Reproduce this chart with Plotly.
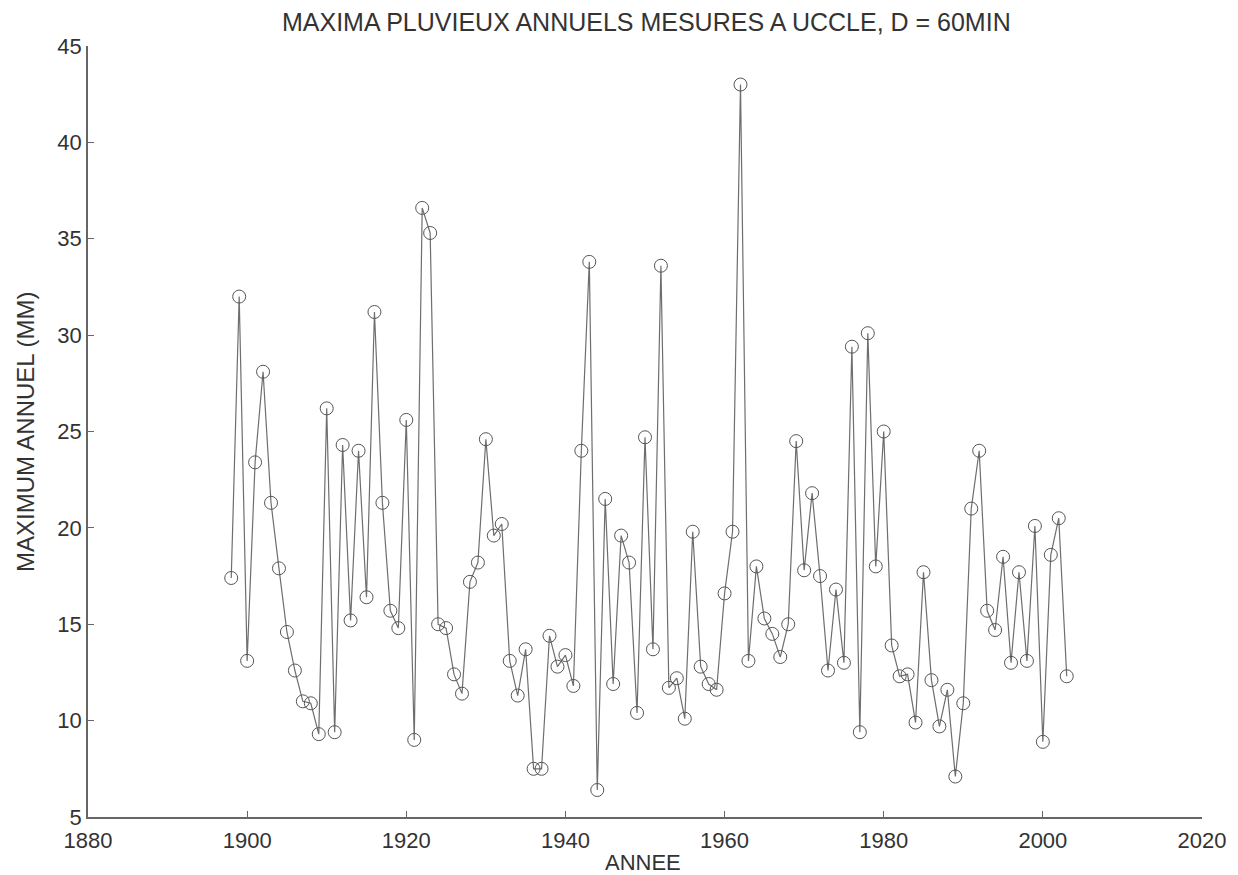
import plotly.graph_objects as go

years = list(range(1898, 2004))
maxima = [
    17.4, 32.0, 13.1, 23.4, 28.1, 21.3, 17.9, 14.6, 12.6, 11.0,
    10.9, 9.3, 26.2, 9.4, 24.3, 15.2, 24.0, 16.4, 31.2, 21.3,
    15.7, 14.8, 25.6, 9.0, 36.6, 35.3, 15.0, 14.8, 12.4, 11.4,
    17.2, 18.2, 24.6, 19.6, 20.2, 13.1, 11.3, 13.7, 7.5, 7.5,
    14.4, 12.8, 13.4, 11.8, 24.0, 33.8, 6.4, 21.5, 11.9, 19.6,
    18.2, 10.4, 24.7, 13.7, 33.6, 11.7, 12.2, 10.1, 19.8, 12.8,
    11.9, 11.6, 16.6, 19.8, 43.0, 13.1, 18.0, 15.3, 14.5, 13.3,
    15.0, 24.5, 17.8, 21.8, 17.5, 12.6, 16.8, 13.0, 29.4, 9.4,
    30.1, 18.0, 25.0, 13.9, 12.3, 12.4, 9.9, 17.7, 12.1, 9.7,
    11.6, 7.1, 10.9, 21.0, 24.0, 15.7, 14.7, 18.5, 13.0, 17.7,
    13.1, 20.1, 8.9, 18.6, 20.5, 12.3,
]
x_ticks = [1880, 1900, 1920, 1940, 1960, 1980, 2000, 2020]
y_ticks = [5, 10, 15, 20, 25, 30, 35, 40, 45]

title_text = "MAXIMA PLUVIEUX ANNUELS MESURES A UCCLE, D = 60MIN"
x_label = "ANNEE"
y_label = "MAXIMUM ANNUEL (MM)"

W, H = 1238, 875
OFF = 8  # page body margin
# target plot box in screen pixels
PL, PR, PT, PB = 88, 1202, 46, 817
L = PL - OFF
T = PT - OFF
R = W - (PR - OFF)
B = H - (PB - OFF)
PW = W - L - R
PH = H - T - B


def px(xs):
    return (xs - PL) / PW


def py(ys):
    return (PB - ys) / PH


fig = go.Figure()
fig.add_trace(go.Scatter(
    x=years, y=maxima, mode="lines+markers",
    line=dict(color="#6e6e6e", width=1.2),
    marker=dict(symbol="circle-open", size=13, color="#555555", line=dict(width=1)),
    showlegend=False,
))

font = "Liberation Sans, Arial, sans-serif"
txt = "#333333"
fig.update_layout(
    width=W, height=H,
    margin=dict(l=L, r=R, t=T, b=B, autoexpand=False),
    paper_bgcolor="white", plot_bgcolor="white",
    font=dict(family=font, color=txt),
    annotations=[
        dict(text=title_text, xref="paper", yref="paper",
             x=px(646), y=py(22), xanchor="center", yanchor="middle",
             showarrow=False, font=dict(size=25, color=txt)),
        dict(text=x_label, xref="paper", yref="paper",
             x=px(643), y=py(862), xanchor="center", yanchor="middle",
             showarrow=False, font=dict(size=22, color=txt)),
        dict(text=y_label, xref="paper", yref="paper",
             x=px(25), y=py(432), xanchor="center", yanchor="middle",
             showarrow=False, textangle=-90, font=dict(size=24, color=txt)),
    ],
)
fig.update_xaxes(
    range=[1880, 2020], tickvals=x_ticks, ticktext=[str(v) for v in x_ticks],
    showgrid=False, zeroline=False, showline=True, linecolor="#666666", linewidth=1.5,
    ticks="inside", ticklen=6, tickcolor="#666666", ticklabelstandoff=3,
    tickfont=dict(size=22, color=txt), automargin=False,
)
fig.update_yaxes(
    range=[5, 45], tickvals=y_ticks, ticktext=[str(v) for v in y_ticks],
    showgrid=False, zeroline=False, showline=True, linecolor="#666666", linewidth=1.5,
    ticks="inside", ticklen=6, tickcolor="#666666",
    tickfont=dict(size=22, color=txt), automargin=False,
)

fig.write_html("out.html")
